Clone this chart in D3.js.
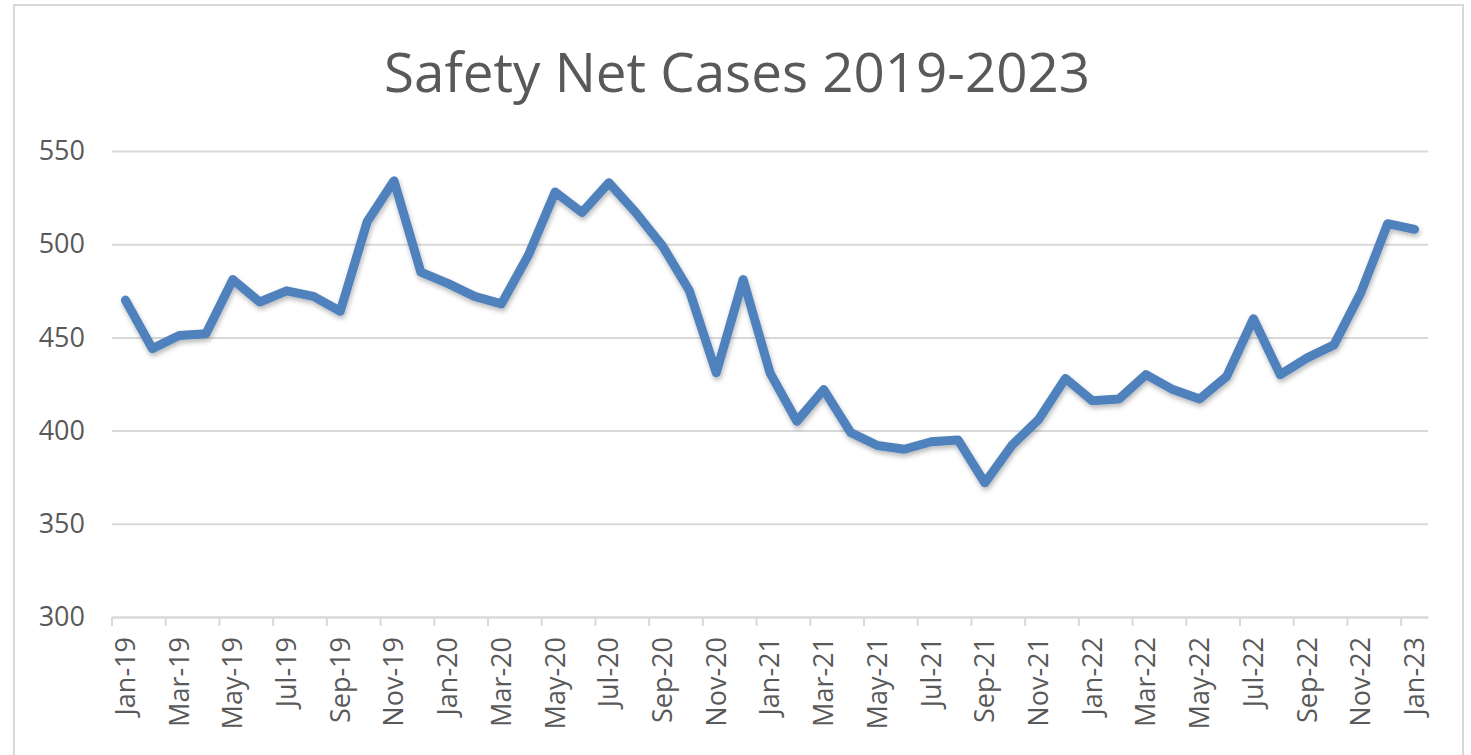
<!DOCTYPE html>
<html>
<head>
<meta charset="utf-8">
<script src="https://cdn.jsdelivr.net/npm/d3@7"></script>
<style>
  body { margin: 0; background: #fff; }
  svg { display: block; font-family: "Open Sans", "Liberation Sans", sans-serif; }
</style>
</head>
<body>
<script>
// monthly categories, Jan-19 .. Jan-23
var months = ["Jan-19","Feb-19","Mar-19","Apr-19","May-19","Jun-19","Jul-19","Aug-19","Sep-19","Oct-19","Nov-19","Dec-19",
              "Jan-20","Feb-20","Mar-20","Apr-20","May-20","Jun-20","Jul-20","Aug-20","Sep-20","Oct-20","Nov-20","Dec-20",
              "Jan-21","Feb-21","Mar-21","Apr-21","May-21","Jun-21","Jul-21","Aug-21","Sep-21","Oct-21","Nov-21","Dec-21",
              "Jan-22","Feb-22","Mar-22","Apr-22","May-22","Jun-22","Jul-22","Aug-22","Sep-22","Oct-22","Nov-22","Dec-22",
              "Jan-23"];

// cases per month
var cases = [470, 444, 451, 452, 481, 469, 475, 472, 464, 512, 534, 485,
             479, 472, 468, 494, 528, 517, 533, 517, 499, 475, 431, 481,
             431, 405, 422, 399, 392, 390, 394, 395, 372, 392, 406, 428,
             416, 417, 430, 422, 417, 429, 460, 430, 439, 446, 474, 511,
             508];

var yTicks = [300, 350, 400, 450, 500, 550];
var title = "Safety Net Cases 2019-2023";

var W = 1471, H = 755;
var plot = {left: 112, right: 1428, top: 151, bottom: 617};
var font = "'Open Sans', 'Liberation Sans', sans-serif";

var svg = d3.select("body").append("svg")
    .attr("width", W)
    .attr("height", H);

// drop shadow for the line (excel style)
var defs = svg.append("defs");
var f = defs.append("filter").attr("id", "shadow")
    .attr("x", "-5%").attr("y", "-5%").attr("width", "110%").attr("height", "115%");
f.append("feDropShadow")
    .attr("dx", 1).attr("dy", 3).attr("stdDeviation", 2.5)
    .attr("flood-color", "#000").attr("flood-opacity", 0.28);

// chart frame
svg.append("rect")
    .attr("x", 14).attr("y", 5)
    .attr("width", 1449).attr("height", 770)
    .attr("fill", "#fff")
    .attr("stroke", "#d9d9d9")
    .attr("stroke-width", 2);

// scales
var xScale = d3.scaleBand()
    .domain(months)
    .range([plot.left, plot.right])
    .padding(0);

var yScale = d3.scaleLinear()
    .domain([300, 550])
    .range([plot.bottom, plot.top]);

function xc(d) { return xScale(d) + xScale.bandwidth() / 2; }

// gridlines + y labels
var yAxis = d3.axisLeft(yScale)
    .tickValues(yTicks)
    .tickSize(-(plot.right - plot.left))
    .tickPadding(27);

var gY = svg.append("g")
    .attr("transform", "translate(" + plot.left + ",0)")
    .call(yAxis)
    .attr("font-family", font);
gY.select(".domain").remove();
gY.selectAll(".tick line")
    .attr("stroke", "#d9d9d9")
    .attr("stroke-width", 2);
gY.selectAll(".tick text")
    .attr("fill", "#595959")
    .attr("font-size", "27px");

// x axis: labels every other month, ticks at category edges
var labelMonths = months.filter(function(d, i) { return i % 2 == 0; });

var xAxis = d3.axisBottom(xScale)
    .tickValues(labelMonths)
    .tickSize(0)
    .tickPadding(0);

var gX = svg.append("g")
    .attr("transform", "translate(0," + plot.bottom + ")")
    .call(xAxis)
    .attr("font-family", font);
gX.select(".domain")
    .attr("stroke", "#d9d9d9")
    .attr("stroke-width", 2);
gX.selectAll(".tick text")
    .attr("fill", "#595959")
    .attr("font-size", "27px")
    .attr("transform", "rotate(-90)")
    .attr("x", -20)
    .attr("y", 0)
    .attr("dy", "0.35em")
    .style("text-anchor", "end");

gX.selectAll(".edge")
    .data(labelMonths)
    .enter().append("line")
    .attr("class", "edge")
    .attr("x1", function(d) { return xScale(d); })
    .attr("x2", function(d) { return xScale(d); })
    .attr("y1", 0)
    .attr("y2", 9)
    .attr("stroke", "#d9d9d9")
    .attr("stroke-width", 2);

// the line
var line = d3.line()
    .x(function(d, i) { return xc(months[i]); })
    .y(function(d) { return yScale(d); });

svg.append("path")
    .datum(cases)
    .attr("d", line)
    .attr("fill", "none")
    .attr("stroke", "#4f81bd")
    .attr("stroke-width", 9)
    .attr("stroke-linejoin", "round")
    .attr("stroke-linecap", "round")
    .attr("filter", "url(#shadow)");

// title
svg.append("text")
    .attr("x", 737)
    .attr("y", 92)
    .attr("text-anchor", "middle")
    .attr("font-size", "54px")
    .attr("fill", "#595959")
    .attr("textLength", 706)
    .attr("lengthAdjust", "spacingAndGlyphs")
    .text(title);
</script>
</body>
</html>
